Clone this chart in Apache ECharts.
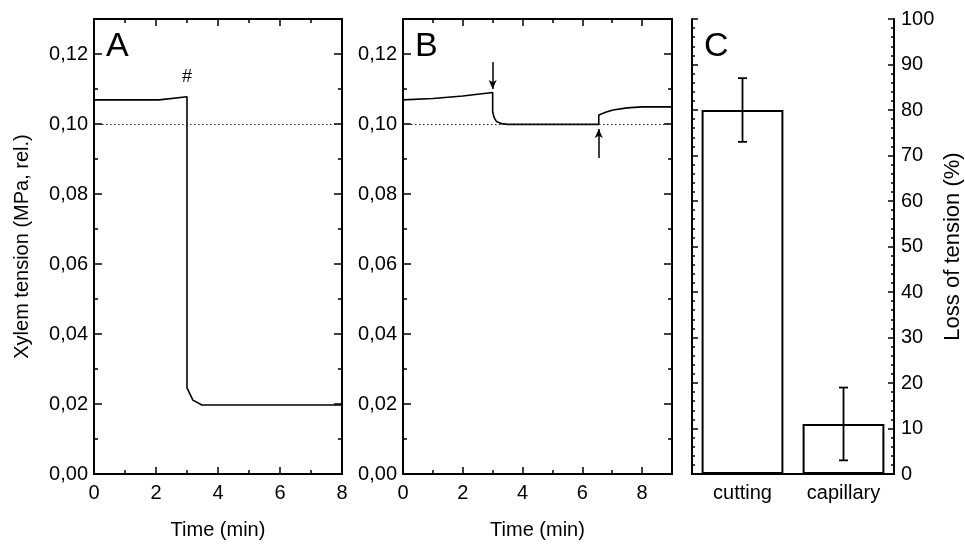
<!DOCTYPE html>
<html><head><meta charset="utf-8">
<script src="https://cdn.jsdelivr.net/npm/echarts@6/dist/echarts.min.js"></script>
<style>html,body{margin:0;padding:0;background:#fff}#c{width:965px;height:545px}</style>
</head><body><div id="c"></div>
<script>
// ---- data ----
const timeA = [0, 2.1, 3.0, 3.0, 3.19, 3.48, 8];
const tensionA = [0.1069, 0.1069, 0.1078, 0.0246, 0.0211, 0.0197, 0.0197];
const timeB = [0, 1, 2, 3.0, 3.0, 3.05, 3.13, 3.3, 3.5, 6.55, 6.55, 6.8, 7.03, 7.5, 8.0, 9];
const tensionB = [0.1069, 0.1073, 0.1080, 0.1090, 0.1035, 0.1018, 0.1007, 0.1001, 0.0999, 0.0999, 0.1026, 0.1034, 0.1040, 0.1046, 0.1049, 0.1049];
const refLineA = 0.0971;
const refLineB = 0.0963;
const hashMark = [3.0, 0.1134];
const arrowDown = [[3.0, 0.1177], [3.0, 0.1100]];
const arrowUp = [[6.55, 0.0903], [6.55, 0.0986]];
const categories = ['cutting', 'capillary'];
const lossValues = [80, 11];
const lossErrors = [7, 8];
const panelLetters = ['A', 'B', 'C'];

const FONT = 'Liberation Sans';
const FS = 20;
const BLACK = '#000';

function pairs(xs, ys) { return xs.map((x, i) => [x, ys[i]]); }
const tensionFmt = v => (Math.round(v * 100) % 2 === 0) ? v.toFixed(2).replace('.', ',') : '';
const timeFmt = v => (Math.round(v) % 2 === 0) ? String(v) : '';

function xAx(grid, max, pos, major, labels, name) {
  return {
    type: 'value', gridIndex: grid, position: pos, min: 0, max: max,
    interval: major ? 2 : 1,
    axisLine: { show: major, onZero: false, lineStyle: { color: BLACK, width: 2 } },
    axisTick: { show: true, inside: true, length: major ? 7 : 4, lineStyle: { color: BLACK, width: 1.5 } },
    axisLabel: { show: labels, formatter: timeFmt, color: BLACK, fontFamily: FONT, fontSize: FS, margin: 9 },
    splitLine: { show: false },
    name: name || '', nameLocation: 'middle', nameGap: 46,
    nameTextStyle: { color: BLACK, fontFamily: FONT, fontSize: FS }
  };
}
function yAx(grid, pos, major, labels, name) {
  return {
    type: 'value', gridIndex: grid, position: pos, min: 0, max: 0.13,
    interval: major ? 0.02 : 0.01,
    axisLine: { show: major, onZero: false, lineStyle: { color: BLACK, width: 2 } },
    axisTick: { show: true, inside: true, length: major ? 8 : 4, lineStyle: { color: BLACK, width: 1.5 } },
    axisLabel: { show: labels, formatter: tensionFmt, color: BLACK, fontFamily: FONT, fontSize: FS, margin: 6 },
    splitLine: { show: false },
    name: name || '', nameLocation: 'middle', nameGap: 62, nameRotate: 90,
    nameTextStyle: { color: BLACK, fontFamily: FONT, fontSize: FS }
  };
}

const grids = [
  { left: 94, top: 19, width: 248, height: 455 },
  { left: 403, top: 19, width: 269, height: 455 },
  { left: 692, top: 19, width: 205, height: 455 }
];

const xAxes = [
  xAx(0, 8, 'bottom', true, true, 'Time (min)'),   // 0
  xAx(0, 8, 'bottom', false, false),               // 1
  xAx(0, 8, 'top', true, false),                   // 2
  xAx(0, 8, 'top', false, false),                  // 3
  xAx(1, 9, 'bottom', true, true, 'Time (min)'),   // 4
  xAx(1, 9, 'bottom', false, false),               // 5
  xAx(1, 9, 'top', true, false),                   // 6
  xAx(1, 9, 'top', false, false),                  // 7
  { type: 'category', gridIndex: 2, position: 'bottom', data: categories, // 8
    axisLine: { show: true, lineStyle: { color: BLACK, width: 2 } }, axisTick: { show: false },
    axisLabel: { color: BLACK, fontFamily: FONT, fontSize: FS, margin: 9 } },
  { type: 'category', gridIndex: 2, position: 'top', data: categories,    // 9
    axisLine: { show: true, lineStyle: { color: BLACK, width: 2 } }, axisTick: { show: false },
    axisLabel: { show: false } }
];

const yAxes = [
  yAx(0, 'left', true, true, 'Xylem tension (MPa, rel.)'), // 0
  yAx(0, 'left', false, false),                            // 1
  yAx(0, 'right', true, false),                            // 2
  yAx(0, 'right', false, false),                           // 3
  yAx(1, 'left', true, true),                              // 4
  yAx(1, 'left', false, false),                            // 5
  yAx(1, 'right', true, false),                            // 6
  yAx(1, 'right', false, false),                           // 7
  { type: 'value', gridIndex: 2, position: 'left', min: 0, max: 100, interval: 10,  // 8
    axisLine: { show: true, lineStyle: { color: BLACK, width: 2 } },
    axisTick: { show: true, inside: true, length: 6, lineStyle: { color: BLACK, width: 1.5 } },
    minorTick: { show: true, splitNumber: 5, length: 3, lineStyle: { color: BLACK, width: 1.5 } },
    axisLabel: { show: false }, splitLine: { show: false }, minorSplitLine: { show: false } },
  { type: 'value', gridIndex: 2, position: 'right', min: 0, max: 100, interval: 10, // 9
    axisLine: { show: true, lineStyle: { color: BLACK, width: 2 } },
    axisTick: { show: true, inside: true, length: 6, lineStyle: { color: BLACK, width: 1.5 } },
    minorTick: { show: true, splitNumber: 5, length: 3, lineStyle: { color: BLACK, width: 1.5 } },
    axisLabel: { color: BLACK, fontFamily: FONT, fontSize: FS, margin: 7 },
    splitLine: { show: false }, minorSplitLine: { show: false },
    name: 'Loss of tension (%)', nameLocation: 'middle', nameGap: 48, nameRotate: 90,
    nameTextStyle: { color: BLACK, fontFamily: FONT, fontSize: 22 } }
];

const refLineStyle = { color: '#222', width: 1, type: [1.5, 2.5] };
const arrowStyle = { color: BLACK, width: 1.5, type: 'solid' };

const option = {
  animation: false,
  backgroundColor: '#fff',
  grid: grids,
  xAxis: xAxes,
  yAxis: yAxes,
  graphic: panelLetters.map((t, i) => ({
    type: 'text', left: grids[i].left + 12, top: 30,
    style: { text: t, fontFamily: FONT, fontSize: 34, fill: BLACK }
  })),
  series: [
    { type: 'line', xAxisIndex: 0, yAxisIndex: 0, data: pairs(timeA, tensionA),
      showSymbol: false, symbol: 'none', lineStyle: { color: BLACK, width: 1.6 },
      markLine: { silent: true, symbol: 'none', label: { show: false }, lineStyle: refLineStyle,
        data: [{ yAxis: refLineA }] },
      markPoint: { silent: true, symbol: 'circle', symbolSize: 1, itemStyle: { color: 'rgba(0,0,0,0)' },
        label: { show: true, position: 'inside', formatter: '#', color: BLACK, fontFamily: FONT, fontSize: 18 },
        data: [{ coord: hashMark }] } },
    { type: 'line', xAxisIndex: 4, yAxisIndex: 4, data: pairs(timeB, tensionB),
      showSymbol: false, symbol: 'none', lineStyle: { color: BLACK, width: 1.6 },
      markLine: { silent: true, symbol: 'none', label: { show: false }, lineStyle: refLineStyle,
        data: [
          { yAxis: refLineB },
          [{ coord: arrowDown[0], symbol: 'none', lineStyle: arrowStyle }, { coord: arrowDown[1], symbol: 'arrow', symbolSize: [6, 9] }],
          [{ coord: arrowUp[0], symbol: 'none', lineStyle: arrowStyle }, { coord: arrowUp[1], symbol: 'arrow', symbolSize: [6, 9] }]
        ] } },
    { type: 'bar', xAxisIndex: 8, yAxisIndex: 9, data: lossValues, barWidth: '81%',
      itemStyle: { color: '#fff', borderColor: BLACK, borderWidth: 2 } },
    { type: 'custom', xAxisIndex: 8, yAxisIndex: 9,
      data: lossValues.map((v, i) => [i, v - lossErrors[i], v + lossErrors[i]]),
      renderItem: function (params, api) {
        const lo = api.coord([api.value(0), api.value(1)]);
        const hi = api.coord([api.value(0), api.value(2)]);
        const w = 4.5;
        const st = { stroke: BLACK, lineWidth: 1.8 };
        return { type: 'group', children: [
          { type: 'line', shape: { x1: lo[0], y1: lo[1], x2: hi[0], y2: hi[1] }, style: st },
          { type: 'line', shape: { x1: lo[0] - w, y1: lo[1], x2: lo[0] + w, y2: lo[1] }, style: st },
          { type: 'line', shape: { x1: hi[0] - w, y1: hi[1], x2: hi[0] + w, y2: hi[1] }, style: st }
        ] };
      }, z: 5 }
  ]
};

const chart = echarts.init(document.getElementById('c'), null, { renderer: 'canvas' });
chart.setOption(option);
</script>
</body></html>
